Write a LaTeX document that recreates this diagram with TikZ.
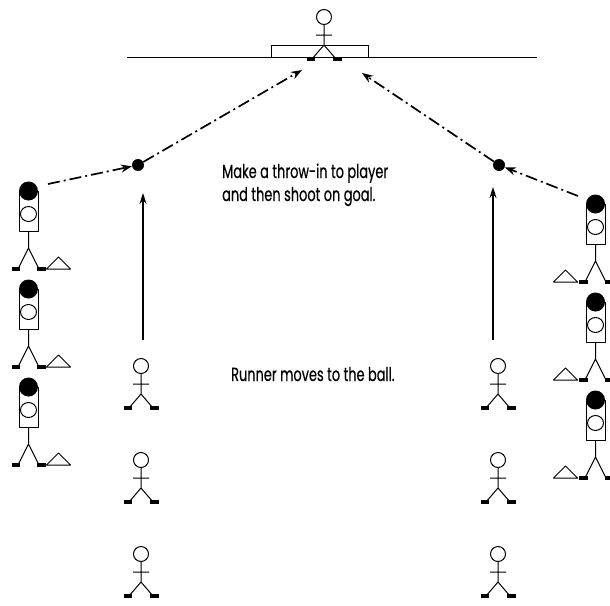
\documentclass[tikz,border=0pt]{standalone}
\usepackage{fontspec}
\setmainfont{Poppins}[FakeStretch=0.68, FakeBold=0.4]
\usetikzlibrary{arrows.meta}

\tikzset{
  figline/.style={line width=1pt, line join=round},
  ball/.style={circle, fill=black, inner sep=0pt, minimum size=12pt},
  pass/.style={line width=1.7pt, dash pattern=on 12pt off 4pt on 2pt off 4pt,
               -{Stealth[length=11pt,width=8pt]}},
  runpath/.style={line width=1.3pt, -{Stealth[length=11pt,width=7pt]}},
  caption/.style={font=\fontsize{19}{23}\selectfont, align=left, inner sep=0pt},
  % stick figure: origin at the centre of the head
  pics/player/.style={code={
    \draw[figline] (0,0) circle[radius=7.5pt];
    \draw[figline] (0,7.5) -- (0,28) (-8,18) -- (8,18)
                   (-12,42) -- (0,28) -- (12,42);
    \fill (-17,40) rectangle (-9,44);
    \fill (9,40) rectangle (18,44);
  }},
  % thrower with ball held over the head: origin at the centre of the ball
  pics/thrower/.style={code={
    \draw[figline] (-9.5,0) rectangle (9.5,40);
    \draw[figline] (0,23) ellipse[x radius=8pt, y radius=7.5pt];
    \fill (0,0) circle[radius=9.5pt];
    \draw[figline] (0,40) -- (0,57) (-10,77) -- (0,57) -- (10,77);
    \fill (-17,75.5) rectangle (-9,79.5);
    \fill (8,75.5) rectangle (17,79.5);
    \draw[figline] (18,78) -- (30,66) -- (42,78) -- cycle;
  }}
}

\begin{document}
\begin{tikzpicture}[x=1pt,y=-1pt]
\useasboundingbox[fill=white] (0,0) rectangle (610,605);

% goal line, goal and goalkeeper
\coordinate (glL) at (127,57);
\coordinate (glR) at (537,57);
\draw[figline] (glL) -- (glR);
\draw[figline] (271,57) |- (368,45) -- (368,57);
\pic at (324,17) {player};

% passing balls
\node[ball] (ballL) at (138,165) {};
\node[ball] (ballR) at (499,165) {};

% throwers on the left touchline
\pic at (28.5,191) {thrower};
\pic at (28.5,289) {thrower};
\pic at (28.5,387) {thrower};
% throwers on the right touchline
\pic[xscale=-1] at (595.5,204) {thrower};
\pic[xscale=-1] at (595.5,302) {thrower};
\pic[xscale=-1] at (595.5,400) {thrower};

% runners
\foreach \y in {366,460,554} {
  \pic at (141,\y) {player};
  \pic at (498,\y) {player};
}

% throw-ins
\coordinate (throwL) at (48,184);
\coordinate (throwR) at (578,196);
\draw[pass] (throwL) -- (ballL);
\draw[pass] (throwR) -- (ballR);

% shots on goal
\coordinate (shotL) at (302,70);
\coordinate (shotR) at (362,73);
\draw[pass] (ballL) -- (shotL);
\draw[pass] (ballR) -- (shotR);

% runs to the ball
\coordinate (runL) at (143,340);
\coordinate (runR) at (493,340);
\coordinate (runLend) at (143,193);
\coordinate (runRend) at (493,187);
\draw[runpath] (runL) -- (runLend);
\draw[runpath] (runR) -- (runRend);

% instructions
\node[caption, anchor=base west] (txt1) at (222,201)
  {Make a throw-in to player\\and then shoot on goal.};
\node[caption, anchor=base west] (txt2) at (231,381)
  {Runner moves to the ball.};
\end{tikzpicture}
\end{document}
